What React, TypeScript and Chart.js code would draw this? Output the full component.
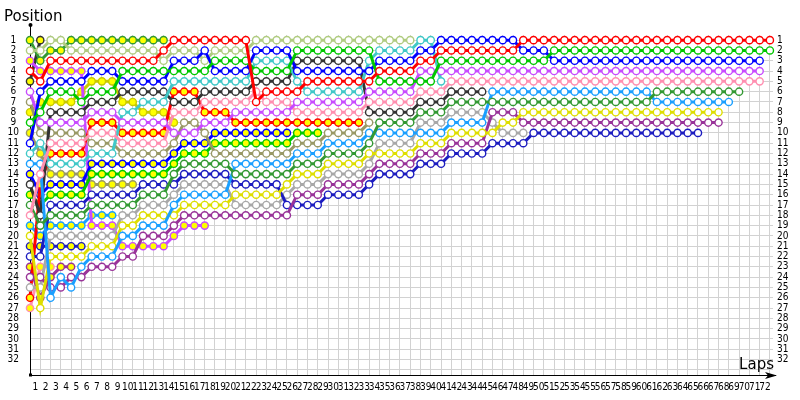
import React, { useEffect, useRef } from 'react';
import { Chart, registerables } from 'chart.js';

Chart.register(...registerables);

// x-axis tick values (lap 0 = starting grid, drawn on the y axis)
const lapTicks = [
  0, 1, 2, 3, 4, 5, 6, 7, 8, 9, 10, 11, 12, 13, 14, 15, 16, 17, 18, 19, 20,
  21, 22, 23, 24, 25, 26, 27, 28, 29, 30, 31, 32, 33, 34, 35, 36, 37, 38, 39, 40,
  41, 42, 43, 44, 45, 46, 47, 48, 49, 50, 51, 52, 53, 54, 55, 56, 57, 58, 59, 60,
  61, 62, 63, 64, 65, 66, 67, 68, 69, 70, 71, 72,
];
// y-axis tick values (positions)
const positionTicks = [
  1, 2, 3, 4, 5, 6, 7, 8, 9, 10, 11, 12, 13, 14, 15, 16, 17, 18, 19, 20,
  21, 22, 23, 24, 25, 26, 27, 28, 29, 30, 31, 32, 33,
];

// Position of each car at lap 0, 1, 2, ... (index = lap)
const redA = [4,5,3,3,3,3,3,3,3,3, 3,3,3,2,1,1,1,1,1,1, 1,1,7,6,6,6,6,5,5,5, 5,5,5,5,4,4,4,4,3,3, 2,2,2,2,2,2,2,2,1,1, 1,1,1,1,1,1,1,1,1,1, 1,1,1,1,1,1,1,1,1,1, 1,1,1];
const greenA = [9,8,6,6,6,7,6,6,6,4, 4,4,4,4,4,4,4,4,3,3, 3,3,4,4,4,4,2,2,2,2, 2,2,2,2,5,5,5,5,5,5, 3,3,3,3,3,3,3,3,3,3, 3,2,2,2,2,2,2,2,2,2, 2,2,2,2,2,2,2,2,2,2, 2,2,2];
const blueA = [11,6,5,5,5,5,4,4,4,5, 5,5,5,5,3,3,3,2,4,4, 4,4,2,2,2,2,4,4,4,4, 4,4,4,4,3,3,3,3,2,2, 1,1,1,1,1,1,1,1,2,2, 2,3,3,3,3,3,3,3,3,3, 3,3,3,3,3,3,3,3,3,3, 3,3];
const violetA = [6,9,9,9,9,9,8,8,8,9, 9,9,9,9,10,10,10,9,9,9, 8,8,8,8,8,8,7,7,7,7, 7,7,7,6,6,6,6,6,4,4, 4,4,4,4,4,4,4,4,4,4, 4,4,4,4,4,4,4,4,4,4, 4,4,4,4,4,4,4,4,4,4, 4,4];
const pinkA = [18,14,11,11,11,11,10,10,10,11, 11,11,11,11,8,8,8,7,7,7, 7,7,6,7,7,7,8,8,8,8, 8,8,8,7,7,7,7,7,6,6, 6,5,5,5,5,5,5,5,5,5, 5,5,5,5,5,5,5,5,5,5, 5,5,5,5,5,5,5,5,5,5, 5,5];
const darkGreenA = [17,19,18,18,18,18,17,17,17,17, 17,16,16,16,14,13,13,13,13,13, 14,14,14,14,14,14,13,13,13,12, 12,12,12,11,9,9,9,9,8,8, 8,7,7,7,7,7,7,7,7,7, 7,7,7,7,7,7,7,7,7,7, 7,6,6,6,6,6,6,6,6,6];
const skyA = [13,13,26,24,25,23,22,22,22,20, 20,19,19,19,17,16,16,16,16,16, 13,13,13,13,13,13,12,12,12,11, 11,11,11,10,10,10,10,10,10,10, 10,9,9,9,9,6,6,6,6,6, 6,6,6,6,6,6,6,6,6,6, 6,7,7,7,7,7,7,7,7];
const yellowA = [20,27,22,22,22,22,21,21,21,19, 19,18,18,18,18,17,17,17,17,17, 16,16,16,16,16,15,14,14,14,13, 13,13,13,12,12,12,12,12,11,11, 11,10,10,10,10,10,9,9,8,8, 8,8,8,8,8,8,8,8,8,8, 8,8,8,8,8,8,8,8];
const purpleA = [24,24,25,25,24,24,23,23,23,22, 22,20,20,20,19,18,18,18,18,18, 18,18,18,18,18,18,16,16,16,15, 15,15,15,14,13,13,13,13,12,12, 12,11,11,11,11,8,8,8,9,9, 9,9,9,9,9,9,9,9,9,9, 9,9,9,9,9,9,9,9];
const navyA = [22,22,17,17,17,17,16,16,16,16, 16,15,15,15,15,14,14,14,14,14, 15,15,15,15,15,17,17,17,17,16, 16,16,16,15,14,14,14,14,13,13, 13,12,12,12,12,11,11,11,11,10, 10,10,10,10,10,10,10,10,10,10, 10,10,10,10,10,10];
const oliveA = [2,2,1,1,2,2,2,2,2,2, 2,2,2,3,2,2,2,3,2,2, 2,2,1,1,1,1,1,1,1,1, 1,1,1,1,1,1,1,1];
const turquoiseA = [12,11,13,13,13,13,12,12,12,8, 8,7,7,7,5,5,5,5,5,5, 5,5,3,3,3,3,5,6,6,6, 6,6,6,3,2,2,2,2,1,1, 5];
const blackA = [15,18,8,8,8,8,7,7,7,6, 6,6,6,6,7,7,7,6,6,6, 6,6,5,5,5,5,3,3,3,3, 3,3,3,8,8,8,8,8,7,7, 7,6,6,6,6];
const grayA = [25,25,20,20,20,20,20,20,20,18, 18,17,17,17,16,15,15,15,15,15, 17,17,17,17,17,16,15,15,15,14, 14,14,14,13,11,11,11,11,9,9, 9,8,8,8,8,9,10,10,10];
const khakiA = [7,10,10,10,10,10,11,11,11,12, 12,12,12,12,11,9,9,10,12,12, 12,12,12,12,12,12,11,11,11,10, 10,10,10,9];
const redB = [26,15,12,12,12,12,9,9,9,10, 10,10,10,10,6,6,6,8,8,8, 9,9,9,9,9,9,9,9,9,9, 9,9,9];
const greenB = [16,17,16,16,16,16,14,14,14,14, 14,14,14,14,13,12,12,12,11,11, 11,11,11,11,11,11,10,10,10];
const blueB = [14,16,15,15,15,15,13,13,13,13, 13,13,13,13,12,11,11,11,10,10, 10,10,10,10,10,10];
const violetB = [3,4,4,4,4,4,19,19,19,21, 21,21,21,21,20,19,19,19];
const darkGreenB = [1,3,2,2,1,1,1,1,1,1, 1,1,1,1];
const yellowB = [8,7,7,7,7,6,5,5,5,7, 7,8,8,8,9];
const khakiB = [10,12,14,14,14,14,15,15,15,15, 15];
const skyB = [19,20,19,19,19,19,18,18,18];
const navyB = [21,21,21,21,21,21];
const purpleB = [23,26,24,23,23];
const pinkB = [27,23,23];
const blackB = [5,1];

// styling of each car: ring/line colour and marker fill
const WHITE = '#ffffff';
const YEL = '#ffff00';
const series = [
  { laps: redA, color: '#ff0000', fill: WHITE },
  { laps: greenA, color: '#00c800', fill: WHITE },
  { laps: blueA, color: '#0000ff', fill: WHITE },
  { laps: violetA, color: '#c84bff', fill: WHITE },
  { laps: pinkA, color: '#ff8fb0', fill: WHITE },
  { laps: darkGreenA, color: '#339933', fill: WHITE },
  { laps: skyA, color: '#1a9fff', fill: WHITE },
  { laps: yellowA, color: '#dede00', fill: WHITE },
  { laps: purpleA, color: '#993399', fill: WHITE },
  { laps: navyA, color: '#1c1cc0', fill: WHITE },
  { laps: oliveA, color: '#b0cc80', fill: WHITE },
  { laps: turquoiseA, color: '#40c8c8', fill: WHITE },
  { laps: blackA, color: '#333333', fill: WHITE },
  { laps: grayA, color: '#a8a8a8', fill: WHITE },
  { laps: khakiA, color: '#999966', fill: WHITE },
  { laps: redB, color: '#ff0000', fill: YEL },
  { laps: greenB, color: '#00c800', fill: YEL },
  { laps: blueB, color: '#0000ff', fill: YEL },
  { laps: violetB, color: '#c84bff', fill: YEL },
  { laps: darkGreenB, color: '#339933', fill: YEL },
  { laps: yellowB, color: '#c8c800', fill: YEL },
  { laps: khakiB, color: '#999966', fill: YEL },
  { laps: skyB, color: '#1a9fff', fill: YEL },
  { laps: navyB, color: '#1c1cc0', fill: YEL },
  { laps: purpleB, color: '#993399', fill: YEL },
  { laps: pinkB, color: '#ff8fb0', fill: YEL },
  { laps: blackB, color: '#333333', fill: YEL },
];

const TICK_FONT = { family: 'Tahoma, "DejaVu Sans Condensed", "Liberation Sans", sans-serif', size: 10 };
const GRID = '#d2d2d2';

const decor = {
  id: 'decor',
  afterDraw(chart: any) {
    const { ctx, chartArea } = chart;
    const { left, right, top, bottom } = chartArea;
    ctx.save();
    ctx.strokeStyle = '#000';
    ctx.fillStyle = '#000';
    ctx.lineWidth = 1;
    const ax = Math.round(left) + 0.5;
    ctx.beginPath();
    ctx.moveTo(ax, top);
    ctx.lineTo(ax, top - 10);
    ctx.stroke();
    ctx.beginPath();
    ctx.arc(ax, top - 10, 2, 0, Math.PI * 2);
    ctx.fill();
    ctx.fillRect(ax - 1.5, bottom - 1.5, 3, 3);
    const by = Math.round(bottom) + 0.5;
    ctx.beginPath();
    ctx.moveTo(right, by);
    ctx.lineTo(right + 3, by);
    ctx.stroke();
    ctx.beginPath();
    ctx.moveTo(right + 4, by);
    ctx.lineTo(right - 8, by - 3.5);
    ctx.lineTo(right - 5, by);
    ctx.lineTo(right - 8, by + 3.5);
    ctx.closePath();
    ctx.fill();
    ctx.font = '15px "DejaVu Sans", sans-serif';
    ctx.textBaseline = 'alphabetic';
    ctx.textAlign = 'left';
    ctx.fillText('Position', 4, 21);
    ctx.textAlign = 'right';
    ctx.fillText('Laps', right + 1, 369);
    ctx.restore();
  },
};

export default function App() {
  const ref = useRef<HTMLCanvasElement>(null);
  useEffect(() => {
    if (!ref.current) return;
    const datasets = series.map((s, k) => ({
      label: 'car' + k,
      data: s.laps.map((p, lap) => ({ x: lap, y: p })),
      borderColor: s.color,
      backgroundColor: s.fill,
      borderWidth: 3,
      pointRadius: 3.6,
      pointBorderWidth: 1.4,
      pointBorderColor: s.color,
      pointBackgroundColor: s.fill,
      tension: 0,
      clip: false as any,
    }));
    const chart = new Chart(ref.current, {
      type: 'line',
      data: { datasets },
      plugins: [decor],
      options: {
        responsive: false,
        animation: false,
        events: [],
        layout: { padding: { top: 35, left: 0, right: 0, bottom: 0 } },
        plugins: { legend: { display: false }, tooltip: { enabled: false }, title: { display: false } },
        scales: {
          x: {
            type: 'linear',
            position: 'bottom',
            min: 0,
            max: 72.3,
            afterBuildTicks: (axis: any) => { axis.ticks = lapTicks.map((v) => ({ value: v })); },
            afterFit: (axis: any) => { axis.height = 25; },
            grid: { color: GRID, lineWidth: 1, drawTicks: false },
            border: { display: true, color: '#000', width: 1 },
            ticks: {
              autoSkip: false, maxRotation: 0, minRotation: 0, padding: 6, labelOffset: -5,
              color: '#000', font: TICK_FONT,
              callback: (v: any) => (v === 0 ? '' : String(v)),
            },
          },
          y: {
            type: 'linear',
            position: 'left',
            reverse: true,
            min: 0.5,
            max: 33.5,
            afterBuildTicks: (axis: any) => { axis.ticks = positionTicks.map((v) => ({ value: v })); },
            afterFit: (axis: any) => { axis.width = 30; },
            grid: { color: GRID, lineWidth: 1, drawTicks: false },
            border: { display: true, color: '#000', width: 1 },
            ticks: {
              autoSkip: false, padding: 11, crossAlign: 'center', color: '#000', font: TICK_FONT,
              callback: (v: any) => (v > 32 ? '' : String(v)),
            },
          },
          y2: {
            type: 'linear',
            position: 'right',
            reverse: true,
            min: 0.5,
            max: 33.5,
            afterBuildTicks: (axis: any) => { axis.ticks = positionTicks.map((v) => ({ value: v })); },
            afterFit: (axis: any) => { axis.width = 27; },
            grid: { display: false, drawTicks: false },
            border: { display: false },
            ticks: {
              autoSkip: false, padding: 4, crossAlign: 'near', color: '#000', font: TICK_FONT,
              callback: (v: any) => (v > 32 ? '' : String(v)),
            },
          },
        },
      } as any,
    });
    return () => chart.destroy();
  }, []);
  return (
    <div style={{ position: 'absolute', left: 0, top: 0, width: 800, height: 400, background: '#fff' }}>
      <canvas ref={ref} width={800} height={400} style={{ display: 'block' }} />
    </div>
  );
}
